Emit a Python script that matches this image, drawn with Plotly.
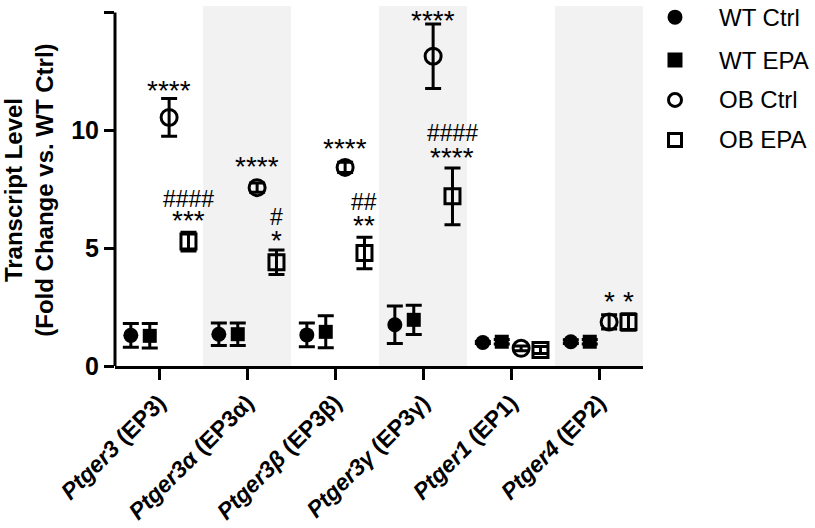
import plotly.graph_objects as go

# categories (gene, receptor)
genes = ["Ptger3", "Ptger3α", "Ptger3β", "Ptger3γ", "Ptger1", "Ptger4"]
receptors = ["EP3", "EP3α", "EP3β", "EP3γ", "EP1", "EP2"]

groups = ["WT Ctrl", "WT EPA", "OB Ctrl", "OB EPA"]

# mean and SEM per group
wt_ctrl_mean = [1.30, 1.35, 1.32, 1.75, 1.00, 1.03]
wt_ctrl_sem = [0.50, 0.48, 0.50, 0.80, 0.04, 0.08]
wt_epa_mean = [1.28, 1.35, 1.45, 1.96, 1.03, 1.03]
wt_epa_sem = [0.52, 0.48, 0.68, 0.62, 0.10, 0.10]
ob_ctrl_mean = [10.55, 7.57, 8.43, 13.15, 0.75, 1.87]
ob_ctrl_sem = [0.80, 0.20, 0.22, 1.37, 0.10, 0.30]
ob_epa_mean = [5.28, 4.40, 4.80, 7.20, 0.68, 1.87]
ob_epa_sem = [0.40, 0.52, 0.67, 1.20, 0.15, 0.35]

# significance labels: (category, group, y, text)
stars = [
    (0, 2, 11.86, "****"), (0, 3, 6.33, "***"),
    (1, 2, 8.63, "****"), (1, 3, 5.48, "*"),
    (2, 2, 9.39, "****"), (2, 3, 6.12, "**"),
    (3, 2, 14.83, "****"), (3, 3, 9.00, "****"),
    (5, 2, 2.89, "*"), (5, 3, 2.89, "*"),
]
hashes = [
    (0, 3, 7.10, "####"), (1, 3, 6.33, "#"),
    (2, 3, 6.97, "##"), (3, 3, 9.90, "####"),
]

offsets = [-0.32, -0.105, 0.115, 0.335]
FONT = "Liberation Sans, Arial, sans-serif"

fig = go.Figure()

# alternating grey bands
for i in range(1, len(genes), 2):
    fig.add_shape(type="rect", xref="x", yref="y", x0=i - 0.5, x1=i + 0.5,
                  y0=0, y1=15.28, fillcolor="#f2f2f2", line_width=0, layer="below")

styles = [
    dict(symbol="circle", size=15, color="black"),
    dict(symbol="square", size=14, color="black"),
    dict(symbol="circle-open", size=16, color="black", line=dict(width=3, color="black")),
    dict(symbol="square-open", size=15, color="black", line=dict(width=3, color="black")),
]
series = [(wt_ctrl_mean, wt_ctrl_sem), (wt_epa_mean, wt_epa_sem),
          (ob_ctrl_mean, ob_ctrl_sem), (ob_epa_mean, ob_epa_sem)]

for k, (means, sems) in enumerate(series):
    xs = [i + offsets[k] for i in range(len(genes))]
    fig.add_trace(go.Scatter(
        x=xs, y=means, mode="markers", name=groups[k], marker=styles[k],
        showlegend=False,
        error_y=dict(type="data", array=sems, color="black", thickness=3, width=8),
    ))

for cat, grp, y, txt in stars:
    fig.add_annotation(x=cat + offsets[grp], y=y, text=txt, showarrow=False,
                       yshift=-4, font=dict(size=28, color="black", family=FONT))
for cat, grp, y, txt in hashes:
    fig.add_annotation(x=cat + offsets[grp], y=y, text=txt, showarrow=False,
                       font=dict(size=23, color="black", family=FONT))

# y axis spine up to 15
fig.add_shape(type="line", xref="paper", yref="y", x0=0, x1=0, y0=0, y1=15,
              line=dict(color="black", width=3))

fig.add_annotation(xref="paper", yref="y", x=-0.163, y=7.48, xanchor="center",
                   yanchor="middle",
                   text="<b>Transcript Level<br>(Fold Change vs. WT Ctrl)</b>",
                   textangle=-90, showarrow=False,
                   font=dict(size=24, color="black", family=FONT))

# hand-made legend on the right
leg_x = (675 - 115) / 528
leg_rows = [0.969, 0.85, 0.739, 0.628]
for k, name in enumerate(groups):
    yy = leg_rows[k]
    st = styles[k]
    filled = "open" not in st["symbol"]
    half = 7.5 if filled else 6.5
    fig.add_shape(type="circle" if "circle" in st["symbol"] else "rect",
                  xref="paper", yref="paper", xsizemode="pixel", ysizemode="pixel",
                  xanchor=leg_x, yanchor=yy, x0=-half, x1=half, y0=-half, y1=half,
                  fillcolor="black" if filled else "white",
                  line=dict(color="black", width=0 if filled else 3))
    fig.add_annotation(xref="paper", yref="paper", x=(717 - 115) / 528, y=yy,
                       xanchor="left", yanchor="middle", text=name, showarrow=False,
                       font=dict(size=24, color="black", family=FONT))

ticktext = [f"<b><i>{g}</i> ({r})</b>" for g, r in zip(genes, receptors)]

fig.update_layout(
    width=815, height=528,
    margin=dict(l=115, r=172, t=6, b=162),
    plot_bgcolor="white", paper_bgcolor="white",
    font=dict(family=FONT, color="black"),
    showlegend=False,
    xaxis=dict(range=[-0.5, 5.5], tickvals=list(range(len(genes))), ticktext=ticktext,
               tickangle=-45, ticks="outside", ticklen=11, tickwidth=3, tickcolor="black",
               showline=True, linewidth=3, linecolor="black", showgrid=False,
               zeroline=False, tickfont=dict(size=23), automargin=False),
    yaxis=dict(range=[0, 15.28], tickvals=[0, 5, 10, 15],
               ticktext=["<b>0</b>", "<b>5</b>", "<b>10</b>", "<b>15</b>"],
               ticks="outside", ticklen=10, tickwidth=3, tickcolor="black",
               showline=False, showgrid=False, zeroline=False, tickfont=dict(size=25),
               automargin=False),
)

# page body has a default 8px margin; drop it so the figure sits at the window corner
fig.write_html("out.html", config={"displayModeBar": False},
               post_script="document.body.style.margin='0px';")
